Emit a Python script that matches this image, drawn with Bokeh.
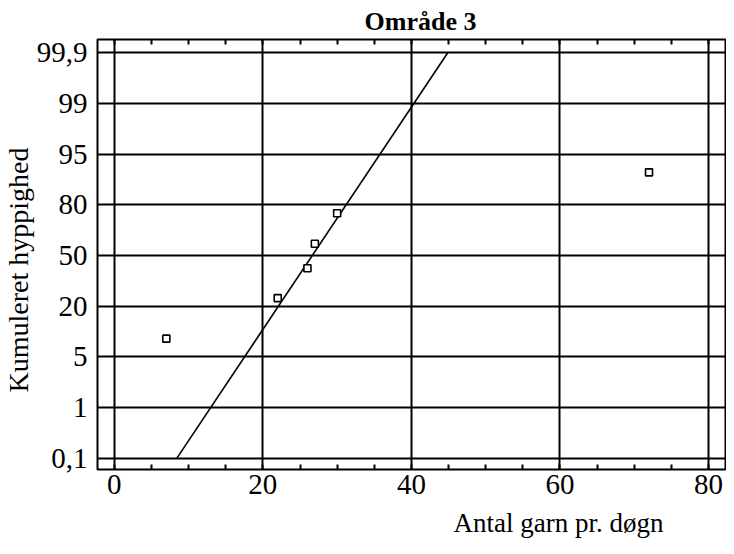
import numpy as np
from bokeh.plotting import figure
from bokeh.models import FixedTicker, LinearAxis, Title, Range1d
from bokeh.embed import file_html
from bokeh.resources import INLINE

# ---- data ----
y_tick_values = [0.1, 1, 5, 20, 50, 80, 95, 99, 99.9]
y_tick_labels = ["0,1", "1", "5", "20", "50", "80", "95", "99", "99,9"]
x_ticks = [0, 20, 40, 60, 80]

garn = [7, 22, 26, 27, 30, 72]                 # Antal garn pr. døgn
kum_hyp = [10.4, 24.8, 42.5, 57, 75, 89.6]    # Kumuleret hyppighed (%)

line_x = [8.4, 44.9]
line_y = [0.1, 99.9]

title_text = "Område 3"
x_label_text = "Antal garn pr. døgn"
y_label_text = "Kumuleret hyppighed"

# probability-paper scale: labels evenly spaced
tick_pos = list(range(len(y_tick_values)))
def to_pos(v):
    return np.interp(v, y_tick_values, tick_pos)

FONT = "Liberation Serif"
minor = list(range(0, 81, 5))

p = figure(width=726, height=546, output_backend="svg", toolbar_location=None,
           x_range=Range1d(-2.27, 82.3), y_range=Range1d(-0.22, 8.26),
           x_axis_location=None, y_axis_location=None,
           min_border_left=96, min_border_right=1, min_border_top=39, min_border_bottom=76)
p.background_fill_color = "white"
p.border_fill_color = "white"
p.outline_line_color = "black"
p.outline_line_width = 2

p.title.text = title_text
p.title.align = "left"
p.title.offset = 267
p.title.standoff = 8
p.title.text_font = FONT
p.title.text_font_size = "26px"
p.title.text_font_style = "bold"
p.title.text_color = "black"

# bottom axis
xb = LinearAxis(ticker=FixedTicker(ticks=x_ticks, minor_ticks=minor))
xb.axis_line_color = None
xb.major_tick_out = 0
xb.major_tick_in = 0
xb.minor_tick_out = 0
xb.minor_tick_in = 5
xb.minor_tick_line_color = "black"
xb.minor_tick_line_width = 2
xb.major_label_text_font = FONT
xb.major_label_text_font_size = "29px"
xb.major_label_text_color = "black"
xb.major_label_standoff = 5
p.add_layout(xb, "below")
p.add_layout(Title(text=x_label_text, align="left", offset=356, standoff=18, text_font=FONT,
                   text_font_size="27px", text_font_style="normal", text_color="black"),
             "below")

# top axis (minor ticks only)
xt = LinearAxis(ticker=FixedTicker(ticks=[], minor_ticks=minor))
xt.axis_line_color = None
xt.major_tick_out = 0
xt.major_tick_in = 0
xt.minor_tick_out = 0
xt.minor_tick_in = 5
xt.minor_tick_line_color = "black"
xt.minor_tick_line_width = 2
xt.major_label_standoff = 0
p.add_layout(xt, "above")

# left axis
yl = LinearAxis(ticker=FixedTicker(ticks=tick_pos))
yl.major_label_overrides = {i: s for i, s in zip(tick_pos, y_tick_labels)}
yl.axis_line_color = None
yl.major_tick_out = 0
yl.major_tick_in = 0
yl.minor_tick_out = 0
yl.minor_tick_in = 0
yl.major_label_text_font = FONT
yl.major_label_text_font_size = "29px"
yl.major_label_text_color = "black"
yl.major_label_standoff = 10
p.add_layout(yl, "left")
p.add_layout(Title(text=y_label_text, align="left", offset=77, standoff=0, text_font=FONT,
                   text_font_size="28px", text_font_style="normal", text_color="black"),
             "left")

# grid
p.xgrid.ticker = FixedTicker(ticks=x_ticks)
p.ygrid.ticker = FixedTicker(ticks=tick_pos)
p.grid.grid_line_color = "black"
p.grid.grid_line_width = 2
p.grid.grid_line_alpha = 1.0

# fitted line and points
p.line(line_x, list(to_pos(line_y)), line_color="black", line_width=1.6)
p.scatter(garn, list(to_pos(kum_hyp)), marker="square", size=7,
          fill_color="white", line_color="black", line_width=1.6)

open("out.html", "w").write(file_html(p, INLINE))
